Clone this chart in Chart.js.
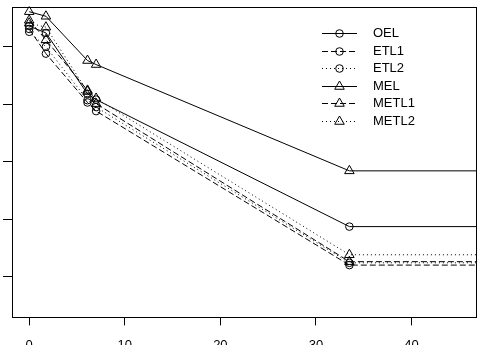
<!DOCTYPE html>
<html>
<head>
<meta charset="utf-8">
<script src="https://cdn.jsdelivr.net/npm/chart.js@4"></script>
<style>
  html, body { margin: 0; padding: 0; background: #fff; overflow: hidden; }
  #wrap { position: absolute; left: 0; top: 0; width: 483px; height: 365px; }
</style>
</head>
<body>
<div id="wrap"><canvas id="chart"></canvas></div>
<script>
// x positions (last one only carries the flat tail to the right edge)
const xValues = [0, 1.75, 6.1, 7, 33.5, 47];
const xTicks = [0, 10, 20, 30, 40];
const yTicks = [0, 1, 2, 3, 4];

const OEL   = [4.36, 4.24, 3.18, 3.08, 0.87, 0.87];
const ETL1  = [4.31, 3.88, 3.03, 2.88, 0.20, 0.20];
const ETL2  = [4.26, 4.00, 3.07, 2.95, 0.24, 0.24];
const MEL   = [4.61, 4.53, 3.76, 3.69, 1.84, 1.84];
const METL1 = [4.46, 4.12, 3.24, 3.01, 0.26, 0.26];
const METL2 = [4.41, 4.34, 3.22, 3.10, 0.38, 0.38];

const seriesNames = ['OEL', 'ETL1', 'ETL2', 'MEL', 'METL1', 'METL2'];
const seriesValues = [OEL, ETL1, ETL2, MEL, METL1, METL2];
const dashes = [[], [6, 3], [1, 3], [], [6, 3], [1, 3]];
const shapes = ['circle', 'circle', 'circle', 'triangle', 'triangle', 'triangle'];

const FONT = '13px "Liberation Sans", Arial, sans-serif';

const datasets = seriesNames.map((name, i) => ({
  label: name,
  data: seriesValues[i].map((v, j) => ({ x: xValues[j], y: v })),
  borderColor: '#000',
  borderWidth: 1,
  borderDash: dashes[i],
  backgroundColor: 'transparent',
  pointStyle: shapes[i],
  pointRadius: ctx => ctx.dataIndex < xValues.length - 1 ? (shapes[i] === 'triangle' ? 5.5 : 3.8) : 0,
  pointBorderColor: '#000',
  pointBackgroundColor: 'transparent',
  pointBorderWidth: 1,
  tension: 0,
}));

// box around plot + R style legend
const boxAndLegend = {
  id: 'boxAndLegend',
  afterDatasetsDraw(chart) {
    const { ctx, chartArea: a } = chart;
    ctx.save();
    ctx.strokeStyle = '#000';
    ctx.lineWidth = 1;
    ctx.setLineDash([]);
    ctx.strokeRect(Math.round(a.left) + 0.5, Math.round(a.top) + 0.5,
      Math.round(a.right - a.left) - 1, Math.round(a.bottom - a.top) - 1);

    ctx.font = FONT;
    ctx.fillStyle = '#000';
    ctx.textBaseline = 'middle';
    seriesNames.forEach((name, i) => {
      const y = Math.round(33 + i * 17.6) + 0.5;
      ctx.beginPath();
      ctx.setLineDash(dashes[i]);
      ctx.moveTo(322, y);
      ctx.lineTo(357, y);
      ctx.stroke();
      ctx.setLineDash([]);
      ctx.beginPath();
      if (shapes[i] === 'circle') {
        ctx.arc(339.5, y, 3.8, 0, Math.PI * 2);
      } else {
        const r = 5.5;
        ctx.moveTo(339.5, y - r);
        ctx.lineTo(339.5 + r * 0.866, y + r * 0.5);
        ctx.lineTo(339.5 - r * 0.866, y + r * 0.5);
        ctx.closePath();
      }
      ctx.stroke();
      ctx.fillText(name, 373, y);
    });
    ctx.restore();
  }
};

new Chart(document.getElementById('chart'), {
  type: 'line',
  data: { datasets },
  options: {
    responsive: true,
    maintainAspectRatio: false,
    animation: false,
    devicePixelRatio: 1,
    layout: { padding: { left: 3, right: 6, top: 1, bottom: 0 } },
    plugins: { legend: { display: false }, tooltip: { enabled: false } },
    scales: {
      x: {
        type: 'linear',
        min: -1.8,
        max: 46.8,
        afterBuildTicks: s => { s.ticks = xTicks.map(v => ({ value: v })); },
        grid: { drawOnChartArea: false, drawTicks: true, tickLength: 8, color: '#000' },
        border: { display: false },
        ticks: { color: '#000', font: { family: '"Liberation Sans", Arial, sans-serif', size: 13 }, padding: 12, maxRotation: 0 }
      },
      y: {
        type: 'linear',
        min: -0.71,
        max: 4.70,
        afterBuildTicks: s => { s.ticks = yTicks.map(v => ({ value: v })); },
        grid: { drawOnChartArea: false, drawTicks: true, tickLength: 9, color: '#000' },
        border: { display: false },
        ticks: { display: false }
      }
    }
  },
  plugins: [boxAndLegend]
});
</script>
</body>
</html>
